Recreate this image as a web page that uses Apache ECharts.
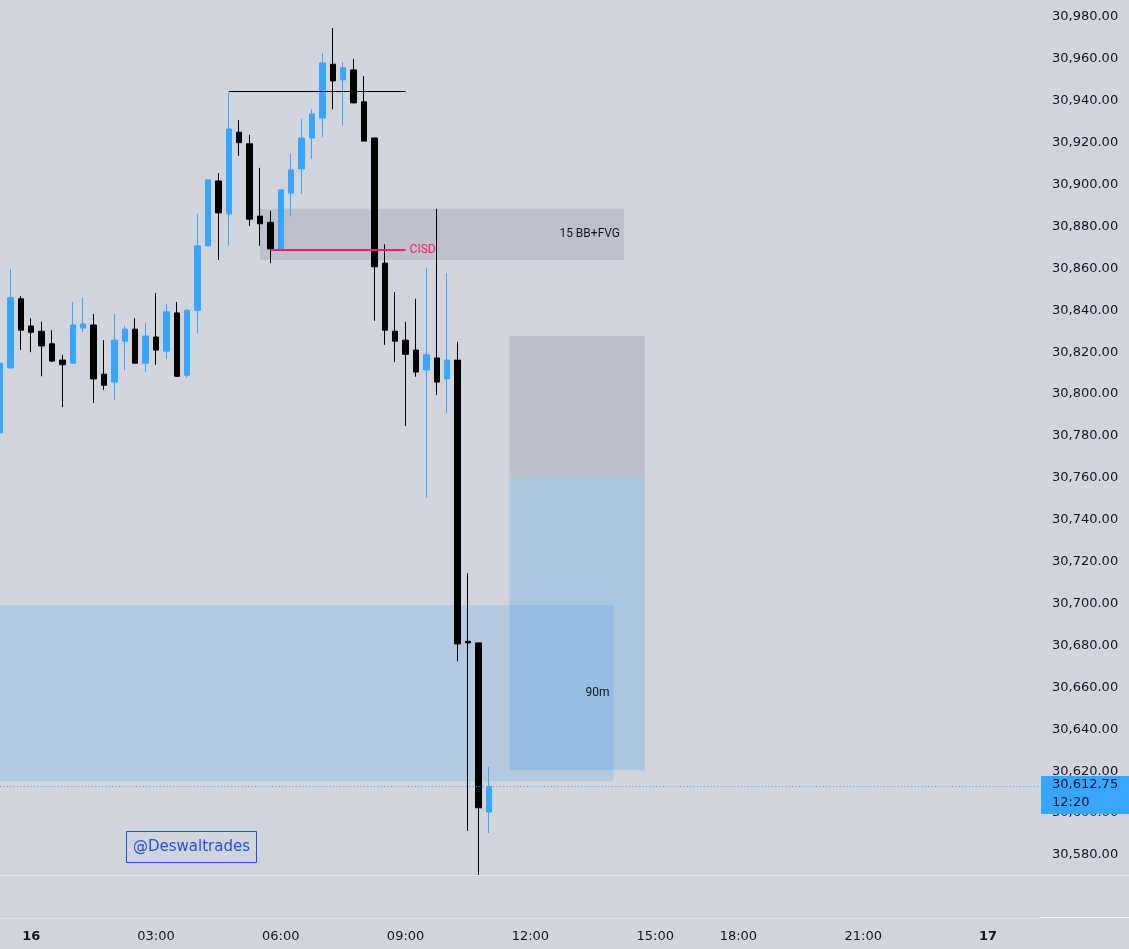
<!DOCTYPE html>
<html>
<head>
<meta charset="utf-8">
<script src="https://cdn.jsdelivr.net/npm/echarts@6/dist/echarts.min.js"></script>
<style>
  html, body { margin: 0; padding: 0; background: #d1d4dc; }
  #main { width: 1129px; height: 949px; }
</style>
</head>
<body>
<div id="main"></div>
<script>
// 15m candles, blue = up, black = down
var opens  = [30781.5, 30812.5, 30845.5, 30832.5, 30830, 30824, 30816.25, 30814.75, 30831.5, 30833,
              30809.5, 30805.75, 30825.25, 30831, 30814.75, 30827.25, 30820.5, 30838.75, 30809, 30840,
              30870.75, 30901.75, 30886, 30925, 30919.5, 30885, 30882, 30868.75, 30896, 30907.5,
              30922.25, 30931.75, 30957.5, 30950, 30954.75, 30939.5, 30922.25, 30862.5, 30830, 30825.75,
              30821, 30811.5, 30817.25, 30807.25, 30816.25, 30682, 30681.25, 30600.5];
var closes = [30814.75, 30846, 30830.5, 30829.5, 30823, 30815.75, 30814, 30833, 30833.5, 30807.25,
              30804.25, 30825.75, 30831, 30814.75, 30827.75, 30821, 30839.25, 30808.5, 30840, 30870.75,
              30902.25, 30886.5, 30926.5, 30920, 30883.5, 30881.25, 30869.25, 30897.5, 30907, 30922.25,
              30933.75, 30958, 30949.5, 30955.75, 30939, 30920.75, 30860.75, 30830.5, 30825.25, 30819,
              30810.5, 30818.75, 30805.75, 30816.25, 30680.75, 30681.25, 30602.5, 30612.75];
var lows   = [30780, 30812, 30821, 30820, 30808.5, 30815.25, 30793.75, 30814.75, 30829.5, 30795.75,
              30802, 30797.25, 30811.5, 30814.75, 30810.5, 30814, 30816.75, 30808.25, 30807.75, 30828.75,
              30870.75, 30864, 30870.75, 30913.75, 30880.25, 30870.75, 30862.5, 30868.75, 30885, 30895.5,
              30912.25, 30922.75, 30936, 30928, 30939, 30920.75, 30835, 30823.5, 30815.25, 30784.75,
              30808.25, 30750.5, 30799.5, 30791, 30672.5, 30591.5, 30570.5, 30590.5];
var highs  = [30816, 30859.75, 30846.75, 30836.25, 30834.5, 30830.5, 30818.75, 30844, 30846, 30838.25,
              30825.75, 30838.25, 30832.5, 30836.25, 30834, 30848.25, 30843, 30844, 30840.5, 30886,
              30902.25, 30905.5, 30943.75, 30930.75, 30923.75, 30908, 30887.5, 30897.5, 30915, 30931.25,
              30936, 30962.75, 30974.75, 30958.5, 30960, 30951.75, 30922.25, 30871.5, 30848.75, 30834.5,
              30845.5, 30860.25, 30888.5, 30857.75, 30825, 30714.5, 30681.25, 30622];

var tickLabels = ['16', '03:00', '06:00', '09:00', '12:00', '15:00', '18:00', '21:00', '17'];
var dayLabels = ['16', '17'];
var priceTicks = [30580, 30600, 30620, 30640, 30660, 30680, 30700, 30720, 30740, 30760, 30780,
                  30800, 30820, 30840, 30860, 30880, 30900, 30920, 30940, 30960, 30980];
var lastPrice = 30612.75;
var countdown = '12:20';

var highLine = 30944.5;          // swing high line
var cisdLevel = 30868.75;
var fvgTop = 30888.5, fvgBottom = 30864;
var zoneTop = 30699.25, zoneBottom = 30615.25;
var posTop = 30827.75, posMid = 30760, posBottom = 30620.5;

// 15 min slots from 23:15 on the 15th, no bars between 16:00 and 17:00
var slots = [];
var m = 23 * 60 + 15, day = 15;
while (slots.length < 101) {
  var hh = Math.floor(m / 60), mm = m % 60;
  if (hh !== 16) {
    slots.push(m === 0 ? String(day) : (hh < 10 ? '0' : '') + hh + ':' + (mm < 10 ? '0' : '') + mm);
  }
  m += 15;
  if (m >= 1440) { m -= 1440; day++; }
}

var candles = opens.map(function (o, i) { return [o, closes[i], lows[i], highs[i]]; });

var axisFont = 'DejaVu Sans';
var ink = '#131722';
var upColor = '#38a6ff';

var chart = echarts.init(document.getElementById('main'));

var option = {
  backgroundColor: '#d1d4dc',
  animation: false,
  grid: { left: 0, right: 89, top: 0, bottom: 31 },
  xAxis: {
    type: 'category',
    data: slots,
    boundaryGap: false,
    axisLine: { lineStyle: { color: '#dfe2e8', width: 1 } },
    axisTick: { show: false },
    splitLine: { show: false },
    axisLabel: {
      interval: function (i, v) { return tickLabels.indexOf(v) >= 0; },
      margin: 12,
      fontFamily: axisFont,
      fontSize: 13,
      color: ink,
      formatter: function (v) { return dayLabels.indexOf(v) >= 0 ? '{b|' + v + '}' : v; },
      rich: { b: { fontFamily: axisFont, fontSize: 13, fontWeight: 'bold', color: ink } }
    }
  },
  yAxis: {
    type: 'value',
    position: 'right',
    min: 30549.93,
    max: 30988.11,
    axisLine: { show: false },
    axisTick: { show: false },
    splitLine: { show: false },
    axisLabel: {
      customValues: priceTicks,
      margin: 12,
      fontFamily: axisFont,
      fontSize: 13,
      color: ink,
      formatter: function (v) {
        return v.toLocaleString('en-US', { minimumFractionDigits: 2, maximumFractionDigits: 2 });
      }
    }
  },
  series: [
    {
      type: 'candlestick',
      data: candles,
      barWidth: 6,
      itemStyle: {
        color: upColor,
        color0: '#000000',
        borderColor: upColor,
        borderColor0: '#000000',
        borderWidth: 1
      },
      markArea: {
        silent: true,
        data: [
          [
            { coord: [25, fvgTop], itemStyle: { color: '#bec1cc' },
              label: { show: true, position: 'insideRight', distance: 4, formatter: '15 BB+FVG',
                       fontFamily: 'Roboto', fontSize: 12, color: ink } },
            { coord: [60, fvgBottom] }
          ],
          [
            { coord: [0, zoneTop], itemStyle: { color: 'rgba(41,140,235,0.17)' },
              label: { show: true, position: 'insideRight', distance: 4, formatter: '90m',
                       fontFamily: 'Roboto', fontSize: 12, color: ink } },
            { coord: [59, zoneBottom] }
          ],
          [
            { coord: [49, posTop], itemStyle: { color: '#bbbfcb' }, label: { show: false } },
            { coord: [62, posMid] }
          ],
          [
            { coord: [49, posMid], itemStyle: { color: 'rgba(41,150,243,0.22)' }, label: { show: false } },
            { coord: [62, posBottom] }
          ]
        ]
      },
      markLine: {
        silent: true,
        symbol: ['none', 'none'],
        label: { show: false },
        data: [
          [
            { coord: [22, highLine], lineStyle: { color: '#000000', width: 1, type: 'solid' } },
            { coord: [39, highLine] }
          ],
          [
            { coord: [26, cisdLevel], lineStyle: { color: '#fd1c6c', width: 2, type: 'solid' },
              label: { show: true, position: 'end', distance: 4, formatter: 'CISD',
                       fontFamily: 'Roboto', fontSize: 12, color: '#fd1c6c' } },
            { coord: [39, cisdLevel] }
          ],
          { yAxis: lastPrice, lineStyle: { color: upColor, width: 1, type: [1, 2.4] }, label: { show: false } }
        ]
      }
    }
  ],
  graphic: [
    { type: 'line', silent: true, z: 10, shape: { x1: 0, y1: 875.5, x2: 1129, y2: 875.5 },
      style: { stroke: '#e3e5ea', lineWidth: 1 } },
    { type: 'line', silent: true, z: 10, shape: { x1: 1040, y1: 917.5, x2: 1129, y2: 917.5 },
      style: { stroke: '#f4f6f9', lineWidth: 1 } },
    { type: 'rect', silent: true, z: 10, shape: { x: 126.5, y: 831.5, width: 130, height: 31 },
      style: { fill: 'none', stroke: '#2152d9', lineWidth: 1 } },
    { type: 'text', silent: true, z: 10, x: 191.5, y: 847,
      style: { text: '@Deswaltrades', fill: '#2152d9', font: '15px "DejaVu Sans"',
               align: 'center', verticalAlign: 'middle' } }
  ]
};

chart.setOption(option);

// price tag on the right axis
var py = chart.convertToPixel({ yAxisIndex: 0 }, lastPrice);
chart.setOption({
  graphic: option.graphic.concat([
    { type: 'rect', silent: true, z: 20, shape: { x: 1041, y: py - 10.5, width: 88, height: 38 },
      style: { fill: upColor } },
    { type: 'text', silent: true, z: 21, x: 1052, y: py - 1.5,
      style: { text: lastPrice.toLocaleString('en-US', { minimumFractionDigits: 2 }),
               fill: ink, font: '13px "DejaVu Sans"', verticalAlign: 'middle' } },
    { type: 'text', silent: true, z: 21, x: 1052, y: py + 16.5,
      style: { text: countdown, fill: ink, font: '13px "DejaVu Sans"', verticalAlign: 'middle' } }
  ])
});
</script>
</body>
</html>
